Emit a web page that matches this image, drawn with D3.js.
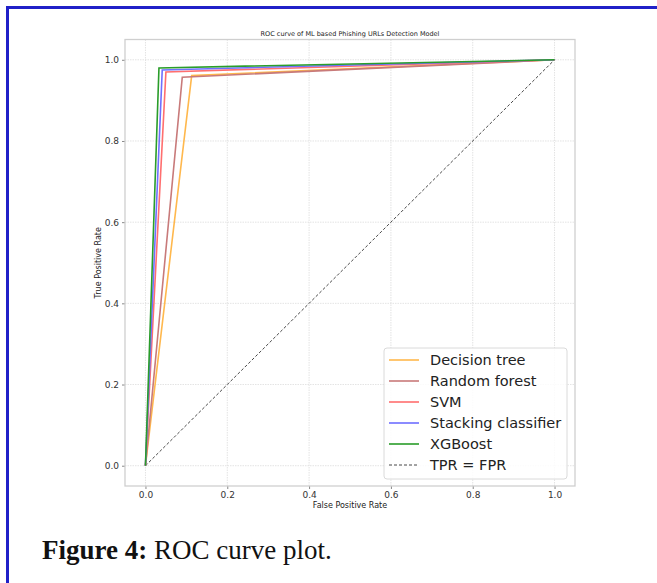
<!DOCTYPE html>
<html>
<head>
<meta charset="utf-8">
<script src="https://cdn.jsdelivr.net/npm/d3@7"></script>
<style>
  body { margin: 0; background: #fff; }
  svg { display: block; }
  .tick text { font-family: "DejaVu Sans", sans-serif; font-size: 9px; fill: #333; }
</style>
</head>
<body>
<svg id="chart" width="657" height="583"></svg>
<script>
// ROC points: each curve goes (0,0) -> (fpr,tpr) -> (1,1)
const models = ["Decision tree", "Random forest", "SVM", "Stacking classifier", "XGBoost"];
const fprValues = [0.113, 0.090, 0.050, 0.041, 0.033];
const tprValues = [0.961, 0.957, 0.970, 0.975, 0.980];
const lineColors = ["#ffb84d", "#c87a7a", "#ff6f6f", "#6f6fff", "#2a9d2a"];
const tickValues = [0, 0.2, 0.4, 0.6, 0.8, 1.0];
const diagonal = [[0, 0], [1, 1]];

var svg = d3.select("#chart");

// blue page frame (left + top)
svg.append("rect").attr("x", 6).attr("y", 6).attr("width", 3).attr("height", 577).attr("fill", "#2020c8");
svg.append("rect").attr("x", 6).attr("y", 6).attr("width", 651).attr("height", 3).attr("fill", "#2020c8");

var x = d3.scaleLinear().domain([-0.05, 1.05]).range([125, 575]);
var y = d3.scaleLinear().domain([-0.05, 1.05]).range([486, 39.5]);

var plot = svg.append("g");

// grid
plot.selectAll(".gx").data(tickValues).enter().append("line")
    .attr("x1", d => x(d)).attr("x2", d => x(d))
    .attr("y1", y(1.05)).attr("y2", y(-0.05))
    .attr("stroke", "#dcdcdc").attr("stroke-width", 0.8).attr("stroke-dasharray", "1.5,1");
plot.selectAll(".gy").data(tickValues).enter().append("line")
    .attr("y1", d => y(d)).attr("y2", d => y(d))
    .attr("x1", x(-0.05)).attr("x2", x(1.05))
    .attr("stroke", "#dcdcdc").attr("stroke-width", 0.8).attr("stroke-dasharray", "1.5,1");

// axes
var fmt = d3.format(".1f");
var xAxis = svg.append("g").attr("transform", "translate(0," + y(-0.05) + ")")
    .call(d3.axisBottom(x).tickValues(tickValues).tickFormat(fmt).tickSize(3).tickPadding(3));
var yAxis = svg.append("g").attr("transform", "translate(" + x(-0.05) + ",0)")
    .call(d3.axisLeft(y).tickValues(tickValues).tickFormat(fmt).tickSize(3).tickPadding(3));
[xAxis, yAxis].forEach(function(a) {
    a.select(".domain").remove();
    a.selectAll(".tick line").attr("stroke", "#888");
});

// frame
svg.append("rect")
    .attr("x", x(-0.05)).attr("y", y(1.05))
    .attr("width", x(1.05) - x(-0.05)).attr("height", y(-0.05) - y(1.05))
    .attr("fill", "none").attr("stroke", "#cfcfcf").attr("stroke-width", 1.3);

var line = d3.line().x(d => x(d[0])).y(d => y(d[1]));

// diagonal
plot.append("path").datum(diagonal)
    .attr("d", line).attr("fill", "none")
    .attr("stroke", "#333").attr("stroke-width", 0.9).attr("stroke-dasharray", "3,2");

// model curves
models.forEach(function(m, i) {
    var pts = [[0, 0], [fprValues[i], tprValues[i]], [1, 1]];
    plot.append("path").datum(pts)
        .attr("d", line).attr("fill", "none")
        .attr("stroke", lineColors[i]).attr("stroke-width", 1.6)
        .attr("stroke-linejoin", "miter");
});

// titles
svg.append("text")
    .attr("x", (x(-0.05) + x(1.05)) / 2).attr("y", 36)
    .attr("text-anchor", "middle")
    .style("font-family", "DejaVu Sans").style("font-size", "6.5px").style("fill", "#222")
    .text("ROC curve of ML based Phishing URLs Detection Model");

svg.append("text")
    .attr("x", (x(-0.05) + x(1.05)) / 2).attr("y", 508)
    .attr("text-anchor", "middle")
    .style("font-family", "DejaVu Sans").style("font-size", "8px").style("fill", "#222")
    .text("False Positive Rate");

svg.append("text")
    .attr("transform", "translate(101," + ((y(-0.05) + y(1.05)) / 2) + ") rotate(-90)")
    .attr("text-anchor", "middle")
    .style("font-family", "DejaVu Sans").style("font-size", "8px").style("fill", "#222")
    .text("True Positive Rate");

// legend
var legendNames = models.concat(["TPR = FPR"]);
var legendColors = lineColors.concat(["#333"]);
var legend = svg.append("g").attr("transform", "translate(384,348)");
legend.append("rect")
    .attr("width", 183).attr("height", 131).attr("rx", 3)
    .attr("fill", "#fff").attr("fill-opacity", 0.85)
    .attr("stroke", "#dadada").attr("stroke-width", 1);
legendNames.forEach(function(name, i) {
    var cy = 12 + i * 21;
    legend.append("line")
        .attr("x1", 5).attr("x2", 35).attr("y1", cy).attr("y2", cy)
        .attr("stroke", legendColors[i]).attr("stroke-width", i === 5 ? 0.9 : 1.6)
        .attr("stroke-dasharray", i === 5 ? "3,2" : null);
    legend.append("text")
        .attr("x", 46).attr("y", cy).attr("dy", "0.36em")
        .style("font-family", "DejaVu Sans").style("font-size", "14.5px").style("fill", "#222")
        .text(name);
});

// caption
var cap = svg.append("text").attr("x", 42).attr("y", 559)
    .style("font-family", "Liberation Serif, serif").style("font-size", "27px").style("fill", "#111");
cap.append("tspan").style("font-weight", "bold").text("Figure 4:");
cap.append("tspan").text(" ROC curve plot.");
</script>
</body>
</html>
